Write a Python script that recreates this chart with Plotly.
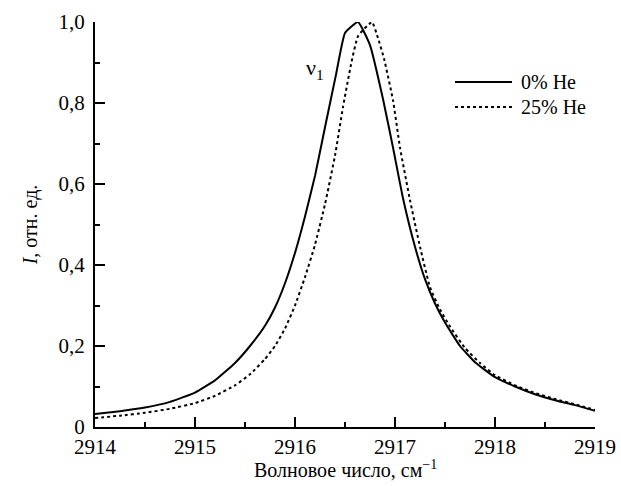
import plotly.graph_objects as go

x_he0 = [2914.0, 2914.25, 2914.5, 2914.75, 2915.0, 2915.2, 2915.4, 2915.55, 2915.7, 2915.8,
         2915.9, 2916.0, 2916.1, 2916.2, 2916.3, 2916.41, 2916.5, 2916.63, 2916.75, 2916.88,
         2916.98, 2917.08, 2917.2, 2917.3, 2917.4, 2917.5, 2917.65, 2917.8, 2918.0, 2918.2,
         2918.4, 2918.6, 2918.8, 2919.0]
y_he0 = [0.032, 0.039, 0.048, 0.062, 0.085, 0.115, 0.158, 0.2, 0.25, 0.295,
         0.355, 0.43, 0.52, 0.62, 0.74, 0.87, 0.973, 1.0, 0.943, 0.81,
         0.69, 0.565, 0.445, 0.365, 0.305, 0.258, 0.2, 0.16, 0.123, 0.1,
         0.081, 0.066, 0.054, 0.04]

x_he25 = [2914.0, 2914.25, 2914.5, 2914.75, 2915.0, 2915.2, 2915.4, 2915.55, 2915.7, 2915.8,
          2915.9, 2916.0, 2916.1, 2916.2, 2916.3, 2916.4, 2916.48, 2916.56, 2916.63, 2916.77,
          2916.83, 2916.89, 2916.98, 2917.05, 2917.15, 2917.25, 2917.35, 2917.45, 2917.55, 2917.7,
          2917.85, 2918.0, 2918.2, 2918.4, 2918.6, 2918.8, 2919.0]
y_he25 = [0.022, 0.028, 0.035, 0.045, 0.059, 0.077, 0.103, 0.13, 0.168, 0.2,
          0.243, 0.3, 0.37, 0.45, 0.55, 0.67, 0.79, 0.895, 0.965, 1.0,
          0.96, 0.91, 0.807, 0.69, 0.56, 0.445, 0.345, 0.29, 0.248, 0.195,
          0.158, 0.128, 0.103, 0.084, 0.069, 0.056, 0.042]

x_ticks = [2914, 2915, 2916, 2917, 2918, 2919]
x_ticklabels = ["2914", "2915", "2916", "2917", "2918", "2919"]
y_ticks = [0, 0.2, 0.4, 0.6, 0.8, 1.0]
y_ticklabels = ["0", "0,2", "0,4", "0,6", "0,8", "1,0"]

series_names = ["0% He", "25% He"]
series_dash = ["solid", "dot"]

FONT = "Liberation Serif, Times New Roman, serif"

fig = go.Figure()
fig.add_trace(go.Scatter(x=x_he0, y=y_he0, mode="lines", name=series_names[0],
                         line=dict(color="black", width=2, dash=series_dash[0], shape="spline", smoothing=0.4)))
fig.add_trace(go.Scatter(x=x_he25, y=y_he25, mode="lines", name=series_names[1],
                         line=dict(color="black", width=2, dash=series_dash[1], shape="spline", smoothing=0.4)))

fig.add_annotation(x=2916.2, y=0.885, xref="x", yref="y", text="ν<sub>1</sub>",
                   showarrow=False, font=dict(family=FONT, size=22, color="black"))

# manual legend (longer sample lines than plotly's built-in legend)
leg_y = [0.852, 0.79]
for name, dash, ly in zip(series_names, series_dash, leg_y):
    fig.add_shape(type="line", xref="paper", yref="paper", x0=0.72, x1=0.834, y0=ly, y1=ly,
                  line=dict(color="black", width=2, dash=dash))
    fig.add_annotation(xref="paper", yref="paper", x=0.848, y=ly, text=name, showarrow=False,
                       xanchor="left", yanchor="middle",
                       font=dict(family=FONT, size=20, color="black"))

# x-axis title placed as annotation for exact vertical position
fig.add_annotation(xref="paper", yref="paper", x=0.5, y=-0.104, text="Волновое число, см<sup>−1</sup>",
                   showarrow=False, xanchor="center", yanchor="middle",
                   font=dict(family=FONT, size=20, color="black"))

axis_common = dict(
    showgrid=False, zeroline=False, showline=True, linecolor="black", linewidth=2,
    ticks="inside", ticklen=10, tickwidth=2, tickcolor="black",
    tickfont=dict(family=FONT, size=21, color="black"),
    minor=dict(ticks="inside", ticklen=5, tickwidth=2, tickcolor="black", showgrid=False),
)

fig.update_layout(
    width=621, height=486,
    margin=dict(l=95, r=26, t=22, b=59),
    paper_bgcolor="white", plot_bgcolor="white",
    font=dict(family=FONT, color="black"),
    showlegend=False,
    xaxis=dict(range=[2914, 2919], tickvals=x_ticks, ticktext=x_ticklabels,
               ticklabelstandoff=0, automargin=False,
               **axis_common),
    yaxis=dict(range=[0, 1.0], tickvals=y_ticks, ticktext=y_ticklabels,
               ticklabelstandoff=4, automargin=False,
               title=dict(text="<i>I</i>, отн. ед.", standoff=16,
                          font=dict(family=FONT, size=20, color="black")),
               **axis_common),
)
fig.update_xaxes(minor=dict(tickvals=[2914.5, 2915.5, 2916.5, 2917.5, 2918.5]))
fig.update_yaxes(minor=dict(tickvals=[0.1, 0.3, 0.5, 0.7, 0.9]))

fig.write_html("out.html")
